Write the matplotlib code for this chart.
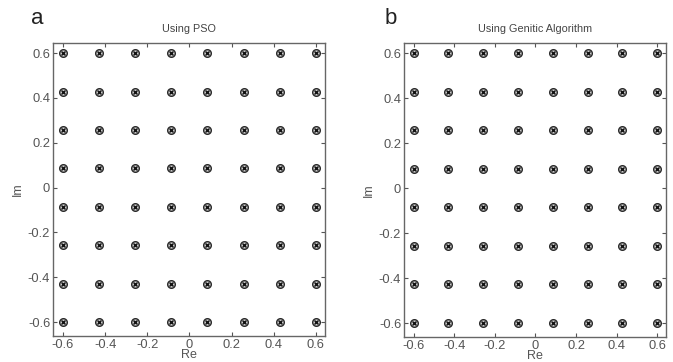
import numpy as np
import matplotlib
matplotlib.use('Agg')
import matplotlib.pyplot as plt

plt.rcParams['font.family'] = ['Liberation Sans', 'DejaVu Sans']

# constellation levels (8x8 grid, both axes)
levels = [-0.6, -0.4286, -0.2571, -0.0857, 0.0857, 0.2571, 0.4286, 0.6]
ticks = [-0.6, -0.4, -0.2, 0, 0.2, 0.4, 0.6]
tick_labels = ['-0.6', '-0.4', '-0.2', '0', '0.2', '0.4', '0.6']
titles = ['Using PSO', 'Using Genitic Algorithm']
panel_letters = ['a', 'b']

re, im = np.meshgrid(levels, levels)
re = re.ravel()
im = im.ravel()

fig = plt.figure(figsize=(6.73, 3.62), dpi=100)
boxes = [[53/673, 1-336/362, 272/673, 293/362],
         [404/673, 1-337/362, 262/673, 294/362]]
letter_pos = [(31/673, 1-19/362), (385/673, 1-18/362)]

for i in range(2):
    ax = fig.add_axes(boxes[i])
    # ideal symbols and estimated symbols
    ax.plot(re, im, 'o', ms=5.5, mfc='#c8c8c8', mec='#2a2a2a', mew=1.0)
    ax.plot(re, im, 'x', ms=3.5, color='#111111', mew=1.0)
    ax.set_xlim(-0.647, 0.643)
    ax.set_ylim(-0.662, 0.645)
    ax.set_xticks(ticks)
    ax.set_xticklabels(tick_labels)
    ax.set_yticks(ticks)
    ax.set_yticklabels(tick_labels)
    ax.tick_params(direction='in', top=True, right=True, length=3,
                   labelsize=9.3, labelcolor='#555555', color='#555555', pad=2)
    for s in ax.spines.values():
        s.set_color('#666666')
        s.set_linewidth(1.0)
    ax.set_title(titles[i], fontsize=7.8, color='#444444', pad=8)
    ax.set_xlabel('Re', fontsize=9, color='#555555', labelpad=-1)
    ax.set_ylabel('Im', fontsize=9, color='#555555', labelpad=3)
    fig.text(letter_pos[i][0], letter_pos[i][1], panel_letters[i],
             fontsize=16, va='center', ha='left', color='#222222')

plt.savefig('out.png', dpi=100)
